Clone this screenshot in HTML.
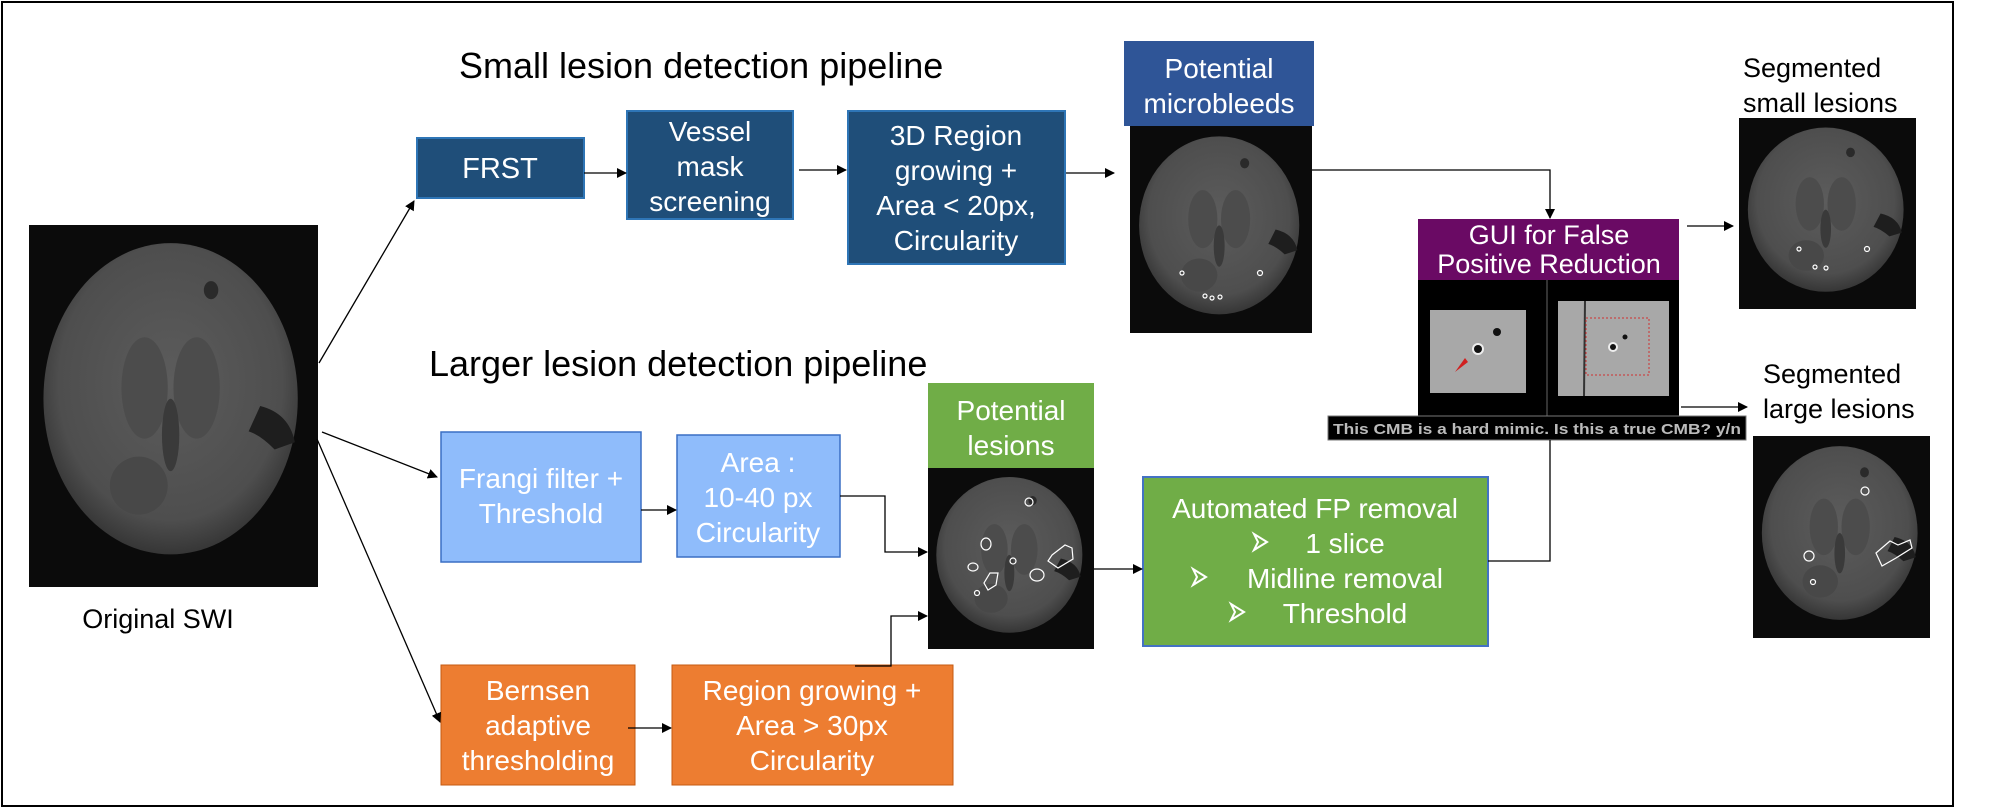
<!DOCTYPE html>
<html><head><meta charset="utf-8"><style>
html,body{margin:0;padding:0;background:#fff;}
svg{display:block;}
text{font-family:"Liberation Sans",Arial,sans-serif;}
</style></head><body>
<svg width="1997" height="808" viewBox="0 0 1997 808" xmlns="http://www.w3.org/2000/svg">
<defs>
<marker id="ah" markerWidth="10" markerHeight="10" refX="9" refY="5" orient="auto" markerUnits="userSpaceOnUse">
<path d="M0,0 L10,5 L0,10 z" fill="#000"/></marker>
<radialGradient id="bg" cx="50%" cy="45%" r="55%">
<stop offset="0" stop-color="#5c5c5c"/><stop offset="0.8" stop-color="#4e4e4e"/><stop offset="1" stop-color="#363636"/></radialGradient>
<g id="brain">
<rect x="0" y="0" width="100" height="100" fill="#0b0b0b"/>
<ellipse cx="49" cy="48" rx="44" ry="43" fill="url(#bg)"/>
<ellipse cx="40" cy="45" rx="8" ry="14" fill="#4c4c4c"/>
<ellipse cx="58" cy="45" rx="8" ry="14" fill="#4c4c4c"/>
<ellipse cx="49" cy="58" rx="3" ry="10" fill="#3a3a3a"/>
<ellipse cx="38" cy="72" rx="10" ry="8" fill="#484848"/>
<path d="M80,50 Q90,52 92,60 L85,62 Q80,58 76,57 z" fill="#1e1e1e"/>
<circle cx="63" cy="18" r="2.5" fill="#2a2a2a"/>
</g>
</defs>

<rect x="2" y="2" width="1951" height="804" fill="none" stroke="#000" stroke-width="2"/>

<text x="459" y="78" font-size="36">Small lesion detection pipeline</text>
<text x="429" y="376" font-size="36">Larger lesion detection pipeline</text>

<use href="#brain" transform="translate(29,225) scale(2.89,3.62)"/>
<text x="158" y="628" font-size="27" text-anchor="middle">Original SWI</text>

<rect x="417" y="138" width="167" height="60" fill="#1f4e79" stroke="#2e75b6" stroke-width="2"/>
<text x="500" y="178" font-size="29" fill="#fff" text-anchor="middle">FRST</text>
<rect x="627" y="111" width="166" height="108" fill="#1f4e79" stroke="#2e75b6" stroke-width="2"/>
<text font-size="28" fill="#fff" text-anchor="middle"><tspan x="710" y="141">Vessel</tspan><tspan x="710" y="176">mask</tspan><tspan x="710" y="211">screening</tspan></text>
<rect x="848" y="111" width="217" height="153" fill="#1f4e79" stroke="#2e75b6" stroke-width="2"/>
<text font-size="28" fill="#fff" text-anchor="middle"><tspan x="956" y="145">3D Region</tspan><tspan x="956" y="180">growing +</tspan><tspan x="956" y="215">Area &lt; 20px,</tspan><tspan x="956" y="250">Circularity</tspan></text>

<rect x="1124" y="41" width="190" height="85" fill="#2f5597"/>
<text font-size="28" fill="#fff" text-anchor="middle"><tspan x="1219" y="78">Potential</tspan><tspan x="1219" y="113">microbleeds</tspan></text>
<use href="#brain" transform="translate(1130,126) scale(1.82,2.07)"/>
<g fill="none" stroke="#fff" stroke-width="1.2"><circle cx="1182" cy="273" r="2"/><circle cx="1260" cy="273" r="2.5"/><circle cx="1205" cy="296" r="2"/><circle cx="1212" cy="298" r="2"/><circle cx="1220" cy="297" r="2"/></g>

<rect x="441" y="432" width="200" height="130" fill="#8fbcfb" stroke="#3a6fc4" stroke-width="1.5"/>
<text font-size="28" fill="#fff" text-anchor="middle"><tspan x="541" y="488">Frangi filter +</tspan><tspan x="541" y="523">Threshold</tspan></text>
<rect x="677" y="435" width="163" height="122" fill="#8fbcfb" stroke="#3a6fc4" stroke-width="1.5"/>
<text font-size="28" fill="#fff" text-anchor="middle"><tspan x="758" y="472">Area :</tspan><tspan x="758" y="507">10-40 px</tspan><tspan x="758" y="542">Circularity</tspan></text>
<rect x="441" y="665" width="194" height="120" fill="#ed7d31" stroke="#c55a11" stroke-width="1"/>
<text font-size="28" fill="#fff" text-anchor="middle"><tspan x="538" y="700">Bernsen</tspan><tspan x="538" y="735">adaptive</tspan><tspan x="538" y="770">thresholding</tspan></text>
<rect x="672" y="665" width="281" height="120" fill="#ed7d31" stroke="#c55a11" stroke-width="1"/>
<text font-size="28" fill="#fff" text-anchor="middle"><tspan x="812" y="700">Region growing +</tspan><tspan x="812" y="735">Area &gt; 30px</tspan><tspan x="812" y="770">Circularity</tspan></text>

<rect x="928" y="383" width="166" height="85" fill="#70ad47"/>
<text font-size="28" fill="#fff" text-anchor="middle"><tspan x="1011" y="420">Potential</tspan><tspan x="1011" y="455">lesions</tspan></text>
<use href="#brain" transform="translate(928,468) scale(1.66,1.81)"/>
<g fill="none" stroke="#fff" stroke-width="1.2">
<ellipse cx="1029" cy="502" rx="4" ry="4"/><ellipse cx="986" cy="544" rx="5" ry="6"/><ellipse cx="973" cy="567" rx="5" ry="4"/>
<path d="M990,573 L998,573 L996,585 L988,590 L984,583 z"/><circle cx="1013" cy="561" r="3"/><ellipse cx="1037" cy="575" rx="7" ry="6"/>
<path d="M1052,555 L1065,545 L1072,548 L1073,559 L1058,568 L1048,561 z"/><circle cx="977" cy="593" r="2.5"/></g>

<rect x="1143" y="477" width="345" height="169" fill="#70ad47" stroke="#4472c4" stroke-width="2"/>
<text font-size="28" fill="#fff" text-anchor="middle"><tspan x="1315" y="518">Automated FP removal</tspan><tspan x="1345" y="553">1 slice</tspan><tspan x="1345" y="588">Midline removal</tspan><tspan x="1345" y="623">Threshold</tspan></text>
<g fill="none" stroke="#fff" stroke-width="2"><path d="M1254,534 L1267,542 L1254,550 L1258,542 z"/><path d="M1193,569 L1206,577 L1193,585 L1197,577 z"/><path d="M1231,604 L1244,612 L1231,620 L1235,612 z"/></g>

<rect x="1418" y="219" width="261" height="61" fill="#6a0a64"/>
<text font-size="27" fill="#fff" text-anchor="middle"><tspan x="1549" y="244">GUI for False</tspan><tspan x="1549" y="273">Positive Reduction</tspan></text>
<rect x="1418" y="280" width="261" height="136" fill="#000"/>
<line x1="1547" y1="280" x2="1547" y2="416" stroke="#666" stroke-width="1"/>
<rect x="1430" y="310" width="96" height="83" fill="#a8a8a8"/>
<circle cx="1497" cy="332" r="4" fill="#111"/><circle cx="1478" cy="349" r="6" fill="#eee"/><circle cx="1478" cy="349" r="4" fill="#111"/>
<path d="M1455,372 L1465,358 L1468,362 z" fill="#d02020"/>
<rect x="1558" y="301" width="111" height="95" fill="#a8a8a8"/>
<line x1="1585" y1="301" x2="1584" y2="396" stroke="#333" stroke-width="2"/>
<rect x="1586" y="318" width="63" height="57" fill="none" stroke="#d03030" stroke-width="1" stroke-dasharray="2,2"/>
<circle cx="1625" cy="337" r="2.5" fill="#111"/><circle cx="1613" cy="347" r="5" fill="#eee"/><circle cx="1613" cy="347" r="3" fill="#111"/>
<rect x="1328" y="416" width="418" height="24" fill="#000" stroke="#777" stroke-width="1"/>
<text x="1333" y="434" font-size="15" font-weight="bold" fill="#bbb" textLength="408" lengthAdjust="spacingAndGlyphs">This CMB is a  hard mimic. Is this a true CMB? y/n</text>

<text font-size="27"><tspan x="1743" y="77">Segmented</tspan><tspan x="1743" y="112">small lesions</tspan></text>
<use href="#brain" transform="translate(1739,118) scale(1.77,1.91)"/>
<g fill="none" stroke="#fff" stroke-width="1.2"><circle cx="1799" cy="249" r="2"/><circle cx="1867" cy="249" r="2.5"/><circle cx="1815" cy="267" r="2"/><circle cx="1826" cy="268" r="2"/></g>
<text font-size="27"><tspan x="1763" y="383">Segmented</tspan><tspan x="1763" y="418">large lesions</tspan></text>
<use href="#brain" transform="translate(1753,436) scale(1.77,2.02)"/>
<g fill="none" stroke="#fff" stroke-width="1.2"><ellipse cx="1865" cy="491" rx="4" ry="4"/><ellipse cx="1809" cy="556" rx="5" ry="5"/><circle cx="1813" cy="582" r="2.5"/>
<path d="M1876,553 L1890,541 L1898,545 L1910,540 L1912,548 L1896,558 L1882,566 z"/></g>

<g stroke="#000" stroke-width="1.3" fill="none" marker-end="url(#ah)">
<line x1="319" y1="363" x2="414" y2="201"/>
<line x1="322" y1="432" x2="437" y2="477"/>
<line x1="317" y1="439" x2="440" y2="722"/>
<line x1="584" y1="173" x2="626" y2="173"/>
<line x1="799" y1="170" x2="846" y2="170"/>
<line x1="1066" y1="173" x2="1114" y2="173"/>
<line x1="641" y1="510" x2="676" y2="510"/>
<polyline points="840,496 885,496 885,552 927,552"/>
<line x1="628" y1="728" x2="671" y2="728"/>
<polyline points="855,666 891,666 891,616 927,616"/>
<line x1="1094" y1="569" x2="1142" y2="569"/>
<polyline points="1312,170 1550,170 1550,218"/>
<line x1="1687" y1="226" x2="1733" y2="226"/>
<line x1="1681" y1="407" x2="1747" y2="407"/>
</g>
<polyline points="1488,561 1550,561 1550,440" stroke="#000" stroke-width="1.3" fill="none"/>
</svg>
</body></html>
